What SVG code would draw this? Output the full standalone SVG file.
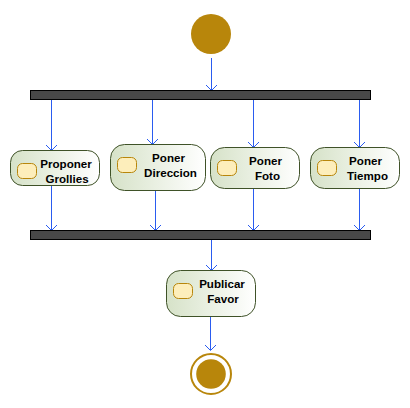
<svg xmlns="http://www.w3.org/2000/svg" width="410" height="408" viewBox="0 0 410 408">
<style>
.bar{fill:#484848;stroke:#000;stroke-width:1}
.act{fill:url(#g);stroke:#3f5228;stroke-width:1}
.ico{fill:#fdeebb;stroke:#b8860b;stroke-width:1}
.dot{fill:#b8860b}
.c line{stroke:#2a5cf0;stroke-width:1}
.c path{fill:none;stroke:#2a5cf0;stroke-width:1}
text{font-family:"Liberation Sans",Arial,sans-serif;font-size:11.6px;font-weight:bold;fill:#000;text-anchor:middle}
</style>
<defs>
<linearGradient id="g" x1="0" x2="1" y1="0" y2="0"><stop offset="0" stop-color="#d6e2c8"/><stop offset="1" stop-color="#fff"/></linearGradient>
</defs>
<g class="c" id="connectors">
<line x1="211.500" y1="58" x2="211.500" y2="90"/><path d="M206 85L211.500 90.500L217 85"/>
<line x1="51.500" y1="100" x2="51.500" y2="150"/><path d="M46 145L51.500 150.500L57 145"/>
<line x1="152.500" y1="100" x2="152.500" y2="144"/><path d="M147 139L152.500 144.500L158 139"/>
<line x1="253.500" y1="100" x2="253.500" y2="147"/><path d="M248 142L253.500 147.500L259 142"/>
<line x1="359.500" y1="100" x2="359.500" y2="147"/><path d="M354 142L359.500 147.500L365 142"/>
<line x1="51.500" y1="185" x2="51.500" y2="230"/><path d="M46 225L51.500 230.500L57 225"/>
<line x1="155.500" y1="191" x2="155.500" y2="230"/><path d="M150 225L155.500 230.500L161 225"/>
<line x1="253.500" y1="189" x2="253.500" y2="230"/><path d="M248 225L253.500 230.500L259 225"/>
<line x1="359.500" y1="189" x2="359.500" y2="230"/><path d="M354 225L359.500 230.500L365 225"/>
<line x1="211.500" y1="240" x2="211.500" y2="270"/><path d="M206 265L211.500 270.500L217 265"/>
<line x1="210.500" y1="316" x2="210.500" y2="350"/><path d="M205 345L210.500 350.500L216 345"/>
</g>
<g id="start"><circle class="dot" cx="211" cy="34" r="20"/></g>
<g id="fork"><rect class="bar" x="30.500" y="90.500" width="340" height="9"/></g>
<g id="proponer"><rect class="act" x="10.500" y="150.500" width="89" height="35" rx="12"/><rect class="ico" x="17.500" y="163.500" width="19" height="15" rx="5"/><text x="66" y="168">Proponer</text><text x="67" y="183">Grollies</text></g>
<g id="direccion"><rect class="act" x="110.500" y="144.500" width="95" height="46" rx="14"/><rect class="ico" x="117.500" y="157.500" width="19" height="15" rx="5"/><text x="168.500" y="162">Poner</text><text x="170.500" y="177">Direccion</text></g>
<g id="foto"><rect class="act" x="210.500" y="147.500" width="89" height="41" rx="14"/><rect class="ico" x="217.500" y="160.500" width="19" height="15" rx="5"/><text x="265.500" y="165">Poner</text><text x="267.500" y="180">Foto</text></g>
<g id="tiempo"><rect class="act" x="310.500" y="147.500" width="89" height="41" rx="14"/><rect class="ico" x="317.500" y="160.500" width="19" height="15" rx="5"/><text x="365.500" y="165">Poner</text><text x="367.500" y="180">Tiempo</text></g>
<g id="join"><rect class="bar" x="30.500" y="230.500" width="340" height="9"/></g>
<g id="publicar"><rect class="act" x="166.500" y="270.500" width="89" height="46" rx="14"/><rect class="ico" x="173.500" y="283.500" width="19" height="15" rx="5"/><text x="222" y="288">Publicar</text><text x="223" y="303">Favor</text></g>
<g id="end"><circle cx="211" cy="374" r="20" fill="#fff" stroke="#b8860b" stroke-width="2"/><circle class="dot" cx="211" cy="374" r="14.800"/></g>
</svg>
